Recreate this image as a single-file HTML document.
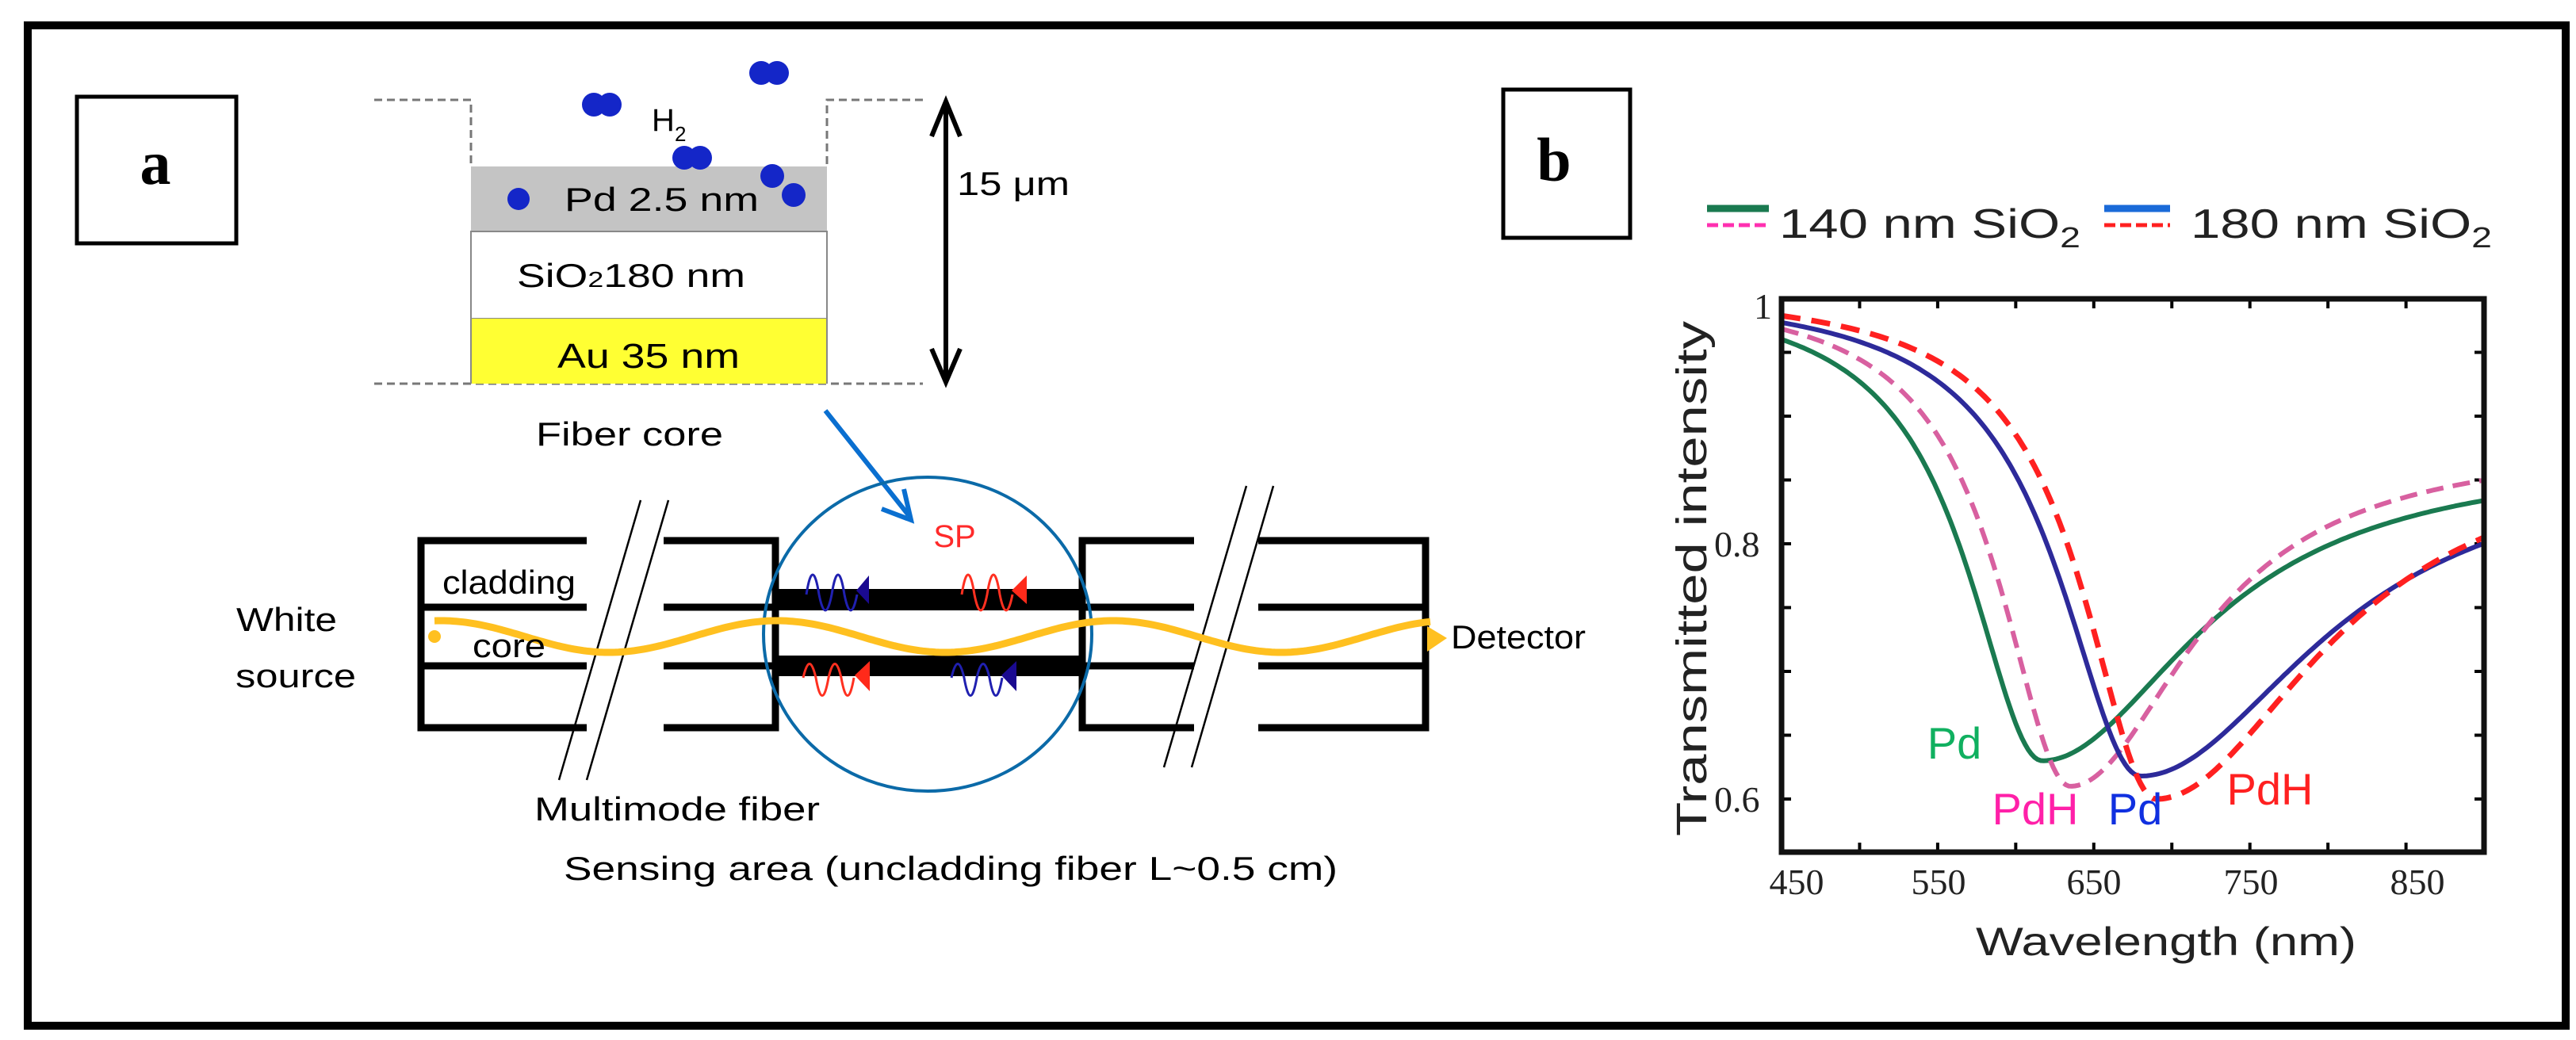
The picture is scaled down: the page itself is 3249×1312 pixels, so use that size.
<!DOCTYPE html>
<html><head><meta charset="utf-8"><style>
html,body{margin:0;padding:0;background:#fff}
svg{display:block}
text{font-family:"Liberation Sans",sans-serif}
</style></head><body>
<svg id="s" width="3249" height="1312" viewBox="0 0 3249 1312" xmlns="http://www.w3.org/2000/svg">
<rect x="0" y="0" width="3249" height="1312" fill="#fff"/>
<rect x="35" y="32" width="3201" height="1262" fill="none" stroke="#000" stroke-width="10"/>
<!-- panel labels -->
<rect x="97" y="122" width="201" height="185" fill="none" stroke="#000" stroke-width="5"/>
<text x="196" y="232" font-size="78" font-weight="bold" text-anchor="middle" style="font-family:'Liberation Serif',serif">a</text>
<rect x="1896" y="113" width="160" height="187" fill="none" stroke="#000" stroke-width="5"/>
<text x="1960" y="228" font-size="78" font-weight="bold" text-anchor="middle" style="font-family:'Liberation Serif',serif">b</text>

<!-- layer stack -->
<g stroke="#777" stroke-width="3" stroke-dasharray="10,6" fill="none">
<path d="M472 126 H594 V210"/><path d="M1164 126 H1043 V210"/>
<path d="M472 484 H1164"/>
</g>
<rect x="594" y="210" width="449" height="82" fill="#c4c4c4"/>
<rect x="594" y="292" width="449" height="110" fill="#fff" stroke="#888" stroke-width="2"/>
<rect x="594" y="402" width="449" height="82" fill="#ffff33"/>
<line x1="594" y1="292" x2="594" y2="484" stroke="#888" stroke-width="2"/>
<line x1="1043" y1="292" x2="1043" y2="484" stroke="#888" stroke-width="2"/>
<text x="712" y="266" font-size="42" textLength="245" lengthAdjust="spacingAndGlyphs">Pd 2.5 nm</text>
<text x="652" y="362" font-size="42" textLength="288" lengthAdjust="spacingAndGlyphs">SiO<tspan font-size="28">2</tspan>180 nm</text>
<text x="703" y="464" font-size="44" textLength="230" lengthAdjust="spacingAndGlyphs">Au 35 nm</text>
<text x="676" y="562" font-size="42" textLength="236" lengthAdjust="spacingAndGlyphs">Fiber core</text>
<text x="822" y="165" font-size="40">H</text><text x="851" y="178" font-size="26">2</text>
<g fill="#1426c8">
<circle cx="749" cy="132" r="15"/><circle cx="769" cy="132" r="15"/>
<circle cx="960" cy="92" r="15"/><circle cx="980" cy="92" r="15"/>
<circle cx="863" cy="199" r="15"/><circle cx="883" cy="199" r="15"/>
<circle cx="974" cy="222" r="15"/><circle cx="1001" cy="246" r="15"/>
<circle cx="654" cy="251" r="14"/>
</g>
<!-- 15 um arrow -->
<line x1="1193" y1="135" x2="1193" y2="476" stroke="#000" stroke-width="6"/>
<path d="M1175 172 L1193 128 L1211 172" fill="none" stroke="#000" stroke-width="6"/>
<path d="M1175 440 L1193 482 L1211 440" fill="none" stroke="#000" stroke-width="6"/>
<text x="1207" y="246" font-size="42" textLength="142" lengthAdjust="spacingAndGlyphs">15 μm</text>
<!-- blue arrow -->
<line x1="1041" y1="518" x2="1146" y2="650" stroke="#0a6fd0" stroke-width="6"/>
<path d="M1112 642 L1149 656 L1140 617" fill="none" stroke="#0a6fd0" stroke-width="6"/>

<!-- fiber -->
<g stroke="#000" stroke-width="9" fill="none">
<path d="M740 682 H531 V918 H740"/><line x1="531" y1="766" x2="740" y2="766"/><line x1="531" y1="840" x2="740" y2="840"/>
<path d="M837 682 H978 V918 H837"/><line x1="837" y1="766" x2="978" y2="766"/><line x1="837" y1="840" x2="978" y2="840"/>
<path d="M1506 682 H1365 V918 H1506"/><line x1="1365" y1="766" x2="1506" y2="766"/><line x1="1365" y1="840" x2="1506" y2="840"/>
<path d="M1587 682 H1798 V918 H1587"/><line x1="1587" y1="766" x2="1798" y2="766"/><line x1="1587" y1="840" x2="1798" y2="840"/>
</g>
<rect x="975" y="743" width="393" height="27" fill="#000"/>
<rect x="975" y="827" width="393" height="26" fill="#000"/>
<g stroke="#000" stroke-width="2.5">
<line x1="808" y1="631" x2="705" y2="984"/><line x1="843" y1="631" x2="740" y2="984"/>
<line x1="1572" y1="613" x2="1468" y2="968"/><line x1="1606" y1="613" x2="1503" y2="968"/>
</g>
<ellipse cx="1170" cy="800" rx="207" ry="198" fill="none" stroke="#0b6aa8" stroke-width="4"/>
<path id="wave" fill="none" stroke="#ffc020" stroke-width="9" d=""/>
<path d="M1800 790 L1825 805 L1800 822 Z" fill="#ffc020"/>
<circle cx="548" cy="803" r="8" fill="#ffc020"/>
<!-- small SP waves -->
<g fill="none" stroke-width="3">
<path d="M1017 750 Q1025 700 1033 750 Q1041 790 1049 750 Q1057 700 1065 750 Q1073 790 1081 750" stroke="#2020b0"/>
<path d="M1213 750 Q1221 700 1229 750 Q1237 790 1245 750 Q1253 700 1261 750 Q1269 790 1277 750" stroke="#ff3020"/>
<path d="M1013 855 Q1021 820 1029 855 Q1037 900 1045 855 Q1053 820 1061 855 Q1069 900 1077 855" stroke="#ff3020"/>
<path d="M1200 855 Q1208 820 1216 855 Q1224 900 1232 855 Q1240 820 1248 855 Q1256 900 1264 855" stroke="#2020b0"/>
</g>
<path d="M1080 745 L1096 726 L1096 762 Z" fill="#1a0a90"/>
<path d="M1276 745 L1295 726 L1295 762 Z" fill="#ff2a1a"/>
<path d="M1078 852 L1097 834 L1097 872 Z" fill="#ff2a1a"/>
<path d="M1263 852 L1282 834 L1282 872 Z" fill="#1a0a90"/>
<text x="1204" y="690" font-size="40" fill="#ff2a2a" text-anchor="middle">SP</text>
<text x="642" y="749" font-size="42" text-anchor="middle" textLength="168" lengthAdjust="spacingAndGlyphs">cladding</text>
<text x="642" y="829" font-size="42" text-anchor="middle" textLength="92" lengthAdjust="spacingAndGlyphs">core</text>
<text x="298" y="796" font-size="42" textLength="127" lengthAdjust="spacingAndGlyphs">White</text>
<text x="297" y="867" font-size="42" textLength="152" lengthAdjust="spacingAndGlyphs">source</text>
<text x="1830" y="818" font-size="42" textLength="170" lengthAdjust="spacingAndGlyphs">Detector</text>
<text x="854" y="1035" font-size="42" text-anchor="middle" textLength="360" lengthAdjust="spacingAndGlyphs">Multimode fiber</text>
<text x="711" y="1110" font-size="42" textLength="976" lengthAdjust="spacingAndGlyphs">Sensing area (uncladding fiber L~0.5 cm)</text>

<!-- plot b -->
<line x1="2153" y1="263" x2="2231" y2="263" stroke="#1a7a50" stroke-width="9"/>
<line x1="2153" y1="284" x2="2231" y2="284" stroke="#ff30b0" stroke-width="5" stroke-dasharray="14,6"/>
<text x="2244" y="300" font-size="52" fill="#222" textLength="380" lengthAdjust="spacingAndGlyphs">140 nm SiO<tspan font-size="36" dy="12">2</tspan></text>
<line x1="2654" y1="263" x2="2737" y2="263" stroke="#1a6ad8" stroke-width="9"/>
<line x1="2654" y1="284" x2="2737" y2="284" stroke="#ff2020" stroke-width="5" stroke-dasharray="14,6"/>
<text x="2763" y="300" font-size="52" fill="#222" textLength="380" lengthAdjust="spacingAndGlyphs">180 nm SiO<tspan font-size="36" dy="12">2</tspan></text>
<g id="ticks" stroke="#000" stroke-width="4"></g>
<g id="curves" fill="none"></g>
<rect x="2247" y="377" width="886" height="698" fill="none" stroke="#111" stroke-width="7"/>
<g font-size="46" fill="#222">
<text x="2212" y="402" style="font-family:'Liberation Serif',serif">1</text>
<text x="2162" y="702" style="font-family:'Liberation Serif',serif">0.8</text>
<text x="2162" y="1024" style="font-family:'Liberation Serif',serif">0.6</text>
<text x="2266" y="1128" text-anchor="middle" style="font-family:'Liberation Serif',serif">450</text>
<text x="2445" y="1128" text-anchor="middle" style="font-family:'Liberation Serif',serif">550</text>
<text x="2641" y="1128" text-anchor="middle" style="font-family:'Liberation Serif',serif">650</text>
<text x="2839" y="1128" text-anchor="middle" style="font-family:'Liberation Serif',serif">750</text>
<text x="3049" y="1128" text-anchor="middle" style="font-family:'Liberation Serif',serif">850</text>
</g>
<text x="2732" y="1205" font-size="50" fill="#222" text-anchor="middle" textLength="480" lengthAdjust="spacingAndGlyphs">Wavelength (nm)</text>
<text transform="translate(2152 730) rotate(-90)" font-size="54" fill="#222" text-anchor="middle" textLength="650" lengthAdjust="spacingAndGlyphs">Transmitted intensity</text>
<text x="2465" y="957" font-size="56" fill="#10b060" text-anchor="middle">Pd</text>
<text x="2567" y="1040" font-size="56" fill="#ff20a8" text-anchor="middle">PdH</text>
<text x="2693" y="1040" font-size="56" fill="#1030e0" text-anchor="middle">Pd</text>
<text x="2863" y="1015" font-size="56" fill="#ff2020" text-anchor="middle">PdH</text>
</svg>
<script>
(function(){
var ns="http://www.w3.org/2000/svg";
var d="";for(var x=548;x<=1805;x+=4){var y=803-20*Math.sin((x-450)/212*Math.PI);d+=(x==548?"M":"L")+x+" "+y.toFixed(1)+" ";}
document.getElementById("wave").setAttribute("d",d);
function X(l){return 2247+(l-450)*1.969;}function Y(t){return 686-(t-0.8)*1610;}
var C=[{l0:617,m:.63,wl:58,wr:119,br:.87,c:"#1a7a50",w:6,da:""},
{l0:635,m:.61,wl:55,wr:94,br:.88,c:"#d860a0",w:6,da:"22,12"},
{l0:680,m:.618,wl:63,wr:136,br:.87,c:"#2d2a9a",w:6,da:""},
{l0:690,m:.60,wl:57,wr:127,br:.88,c:"#ff2020",w:7,da:"24,14"}];
var g=document.getElementById("curves");
C.forEach(function(k){var p="";for(var l=450;l<=900;l+=2){var t;var dd=l-k.l0;
if(dd<0){t=1-(1-k.m)/(1+Math.pow(dd/k.wl,2));}else{t=k.br-(k.br-k.m)/(1+Math.pow(dd/k.wr,2));}
p+=(l==450?"M":"L")+X(l).toFixed(1)+" "+Y(t).toFixed(1)+" ";}
var e=document.createElementNS(ns,"path");e.setAttribute("d",p);e.setAttribute("stroke",k.c);e.setAttribute("stroke-width",k.w);if(k.da)e.setAttribute("stroke-dasharray",k.da);g.appendChild(e);});
var tk=document.getElementById("ticks");
for(var l=450;l<=900;l+=50){var x=X(l);[[377,389],[1063,1075]].forEach(function(a){var e=document.createElementNS(ns,"line");e.setAttribute("x1",x);e.setAttribute("x2",x);e.setAttribute("y1",a[0]);e.setAttribute("y2",a[1]);tk.appendChild(e);});}
for(var t=0.6;t<=1.0;t+=0.05){var y=Y(t);if(y<377||y>1075)continue;[[2247,2259],[3121,3133]].forEach(function(a){var e=document.createElementNS(ns,"line");e.setAttribute("x1",a[0]);e.setAttribute("x2",a[1]);e.setAttribute("y1",y);e.setAttribute("y2",y);tk.appendChild(e);});}
})();
</script>
</body></html>
